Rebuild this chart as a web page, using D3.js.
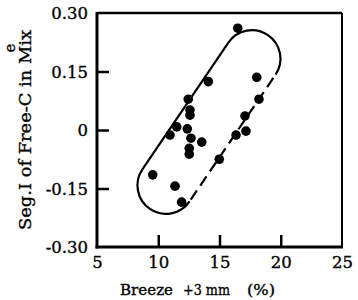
<!DOCTYPE html>
<html><head><meta charset="utf-8">
<script src="https://cdn.jsdelivr.net/npm/d3@7"></script>
<style>
html,body{margin:0;padding:0;background:#fff;}
svg{display:block;}
text{font-family:"DejaVu Serif",serif;fill:#000;stroke:#000;stroke-width:0.35px;}
</style></head>
<body>
<svg id="chart" width="358" height="300"></svg>
<script>
// ---- data ----
const breeze = [16.49, 14.09, 18.04, 12.45, 18.22, 12.59, 12.59, 17.08, 11.51, 10.96, 12.37,
                12.67, 13.55, 17.16, 16.35, 12.53, 12.53, 14.98, 9.55, 11.37, 11.91];
const segI   = [0.261, 0.124, 0.135, 0.079, 0.079, 0.051, 0.038, 0.036, 0.008, -0.013, 0.003,
                -0.021, -0.031, -0.003, -0.013, -0.047, -0.062, -0.075, -0.115, -0.144, -0.185];
const xTicks = [5, 10, 15, 20, 25];
const yTicks = [0.30, 0.15, 0, -0.15, -0.30];
const yTickLabels = ["0.30", "0.15", "0", "-0.15", "-0.30"];
// envelope (capsule) end centres, in data units
const envX = [17.65, 10.63];
const envY = [0.183, -0.142];

const svg = d3.select("#chart");
const L = 97, R = 342, T = 13, B = 247;
const x = d3.scaleLinear().domain([5, 25]).range([L, R]);
const y = d3.scaleLinear().domain([-0.30, 0.30]).range([B, T]);

// frame
svg.append("line").attr("x1", L).attr("x2", R).attr("y1", T).attr("y2", T).attr("stroke", "#000").attr("stroke-width", 2.5);
svg.append("line").attr("x1", R).attr("x2", R).attr("y1", T).attr("y2", B).attr("stroke", "#000").attr("stroke-width", 2);

// axes
const yAxis = d3.axisLeft(y).tickValues(yTicks).tickSize(-12).tickPadding(9)
  .tickFormat((d, i) => yTickLabels[i]);
const gy = svg.append("g").attr("transform", `translate(${L},0)`).call(yAxis);
const xAxis = d3.axisBottom(x).tickValues(xTicks).tickSize(-12).tickPadding(9);
const gx = svg.append("g").attr("transform", `translate(0,${B})`).call(xAxis);
[gx, gy].forEach(g => {
  g.select(".domain").remove();
  g.attr("font-family", null);
  g.selectAll("text").style("font-size", "16.5px");
  g.selectAll(".tick line").attr("stroke", "#000").attr("stroke-width", 2.5);
});
gy.selectAll(".tick").filter(d => d === 0.30 || d === -0.30).select("line").remove();
gx.selectAll(".tick").filter(d => d === 5 || d === 25).select("line").remove();
gy.selectAll("text").attr("dy", "0.36em");
gx.selectAll("text").attr("dy", "0.71em");
svg.append("line").attr("x1", L).attr("x2", L).attr("y1", T - 1).attr("y2", B + 1.5).attr("stroke", "#000").attr("stroke-width", 3);
svg.append("line").attr("x1", L - 1.5).attr("x2", R + 1).attr("y1", B).attr("y2", B).attr("stroke", "#000").attr("stroke-width", 3);

// envelope
const r = 28.5;
const P1 = [x(envX[0]), y(envY[0])], P2 = [x(envX[1]), y(envY[1])];
const len = Math.hypot(P2[0] - P1[0], P2[1] - P1[1]);
const d = [(P2[0] - P1[0]) / len, (P2[1] - P1[1]) / len];
const n = [d[1], -d[0]];
const pt = (P, s) => [P[0] + s * r * n[0], P[1] + s * r * n[1]];
const A1 = pt(P1, -1), A2 = pt(P1, 1), B1 = pt(P2, -1), B2 = pt(P2, 1);
const env = svg.append("g").attr("fill", "none").attr("stroke", "#000").attr("stroke-width", 2.2);
env.append("path").attr("d", `M${A1}A${r},${r} 0 0 1 ${A2}`);
env.append("path").attr("d", `M${B2}A${r},${r} 0 0 1 ${B1}`);
env.append("path").attr("d", `M${B1}L${A1}`);
env.append("path").attr("d", `M${A2}L${B2}`).attr("stroke-dasharray", "11,6").attr("stroke-dashoffset", -4);

// points
svg.append("g").selectAll("circle").data(breeze).join("circle")
  .attr("cx", (v) => x(v)).attr("cy", (v, i) => y(segI[i])).attr("r", 4.8).attr("fill", "#000");

// titles
svg.append("text").attr("transform", "translate(31,130) rotate(-90)").attr("text-anchor", "middle")
  .style("font-size", "17px").attr("textLength", 200).attr("lengthAdjust", "spacingAndGlyphs")
  .text("Seg.I of Free-C in Mix");
svg.append("text").attr("transform", "translate(15,48) rotate(-90)").attr("text-anchor", "middle")
  .style("font-size", "15px").text("e");
svg.append("text").attr("x", 120).attr("y", 295).style("font-size", "15px")
  .attr("textLength", 53).attr("lengthAdjust", "spacingAndGlyphs").text("Breeze");
svg.append("text").attr("x", 183).attr("y", 295).style("font-size", "15px")
  .attr("textLength", 47).attr("lengthAdjust", "spacingAndGlyphs").text("+3 mm");
svg.append("text").attr("x", 247).attr("y", 295).style("font-size", "15px")
  .attr("textLength", 28).attr("lengthAdjust", "spacingAndGlyphs").text("(%)");
</script>
</body></html>
